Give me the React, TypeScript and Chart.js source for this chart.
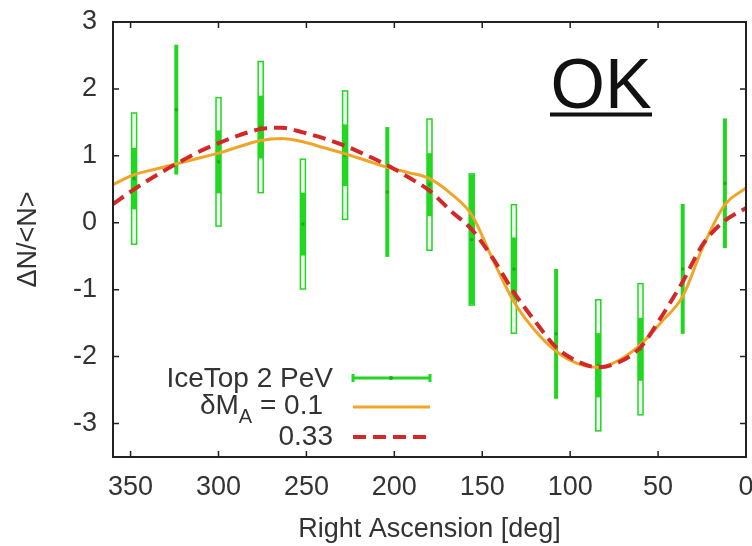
import React, { useEffect, useRef } from "react";
import { Chart, registerables } from "chart.js";

Chart.register(...registerables);

// ---- Data ----
const raBins = [348, 324, 300, 276, 252, 228, 204, 180, 156, 132, 108, 84, 60, 36, 12];
const iceTop = [0.66, 1.69, 0.91, 1.43, -0.02, 1.01, 0.46, 0.57, -0.25, -0.69, -1.66, -2.13, -1.89, -0.69, 0.59];
const statErr = [0.46, 0.97, 0.47, 0.47, 0.47, 0.46, 0.97, 0.47, 0.97, 0.47, 0.97, 0.48, 0.47, 0.97, 0.97];
const totalErr = [0.98, 0.97, 0.96, 0.98, 0.97, 0.96, 0.96, 0.98, 0.98, 0.96, 0.97, 0.98, 0.98, 0.96, 0.96];

const curveRA = [360, 348, 336, 324, 312, 300, 288, 276, 264, 252, 240, 228, 216, 204, 192, 180, 168, 156, 144, 132, 120, 108, 96, 84, 72, 60, 48, 36, 24, 12, 0];
const dMA01 = [0.57, 0.72, 0.8, 0.88, 0.96, 1.04, 1.14, 1.23, 1.26, 1.21, 1.12, 1.03, 0.93, 0.83, 0.75, 0.66, 0.44, 0.12, -0.55, -1.18, -1.61, -1.92, -2.1, -2.16, -2.05, -1.82, -1.48, -1.1, -0.33, 0.27, 0.52];
const dMA033 = [0.28, 0.5, 0.7, 0.88, 1.05, 1.19, 1.31, 1.4, 1.42, 1.35, 1.26, 1.15, 1.01, 0.86, 0.68, 0.48, 0.18, -0.1, -0.53, -1.04, -1.47, -1.86, -2.07, -2.16, -2.08, -1.86, -1.4, -0.88, -0.3, 0.03, 0.22];

const xTickValues = [350, 300, 250, 200, 150, 100, 50, 0];
const yTickValues = [3, 2, 1, 0, -1, -2, -3];

const legendLabels = ["IceTop 2 PeV", "δM", "A", " = 0.1", "0.33"];

const FONT = '"Liberation Sans", Arial, Helvetica, sans-serif';
const TEXT = "#333333";
const GREEN = "rgb(34, 214, 34)";
const GREEN_DARK = "rgb(30, 170, 30)";
const ORANGE = "rgb(240, 165, 40)";
const RED = "rgb(210, 40, 40)";

const customPlugin = {
  id: "customDraw",
  beforeDatasetsDraw(chart: any) {
    const { ctx, chartArea, scales } = chart;
    const x = scales.x;
    const y = scales.y;
    ctx.save();
    ctx.beginPath();
    ctx.rect(chartArea.left, chartArea.top, chartArea.right - chartArea.left, chartArea.bottom - chartArea.top);
    ctx.clip();
    raBins.forEach((ra, i) => {
      const px = x.getPixelForValue(ra);
      const c = iceTop[i];
      const yt = y.getPixelForValue(c + totalErr[i]);
      const yb = y.getPixelForValue(c - totalErr[i]);
      const st = y.getPixelForValue(c + statErr[i]);
      const sb = y.getPixelForValue(c - statErr[i]);
      if (statErr[i] < totalErr[i]) {
        ctx.fillStyle = "rgba(240,255,240,0.9)";
        ctx.fillRect(px - 2.5, yt, 5, yb - yt);
        ctx.strokeStyle = GREEN;
        ctx.lineWidth = 1.5;
        ctx.strokeRect(px - 2.5, yt, 5, yb - yt);
        ctx.fillStyle = GREEN;
        ctx.fillRect(px - 2.5, st, 5, sb - st);
      } else {
        ctx.fillStyle = GREEN;
        ctx.fillRect(px - 2, st, 4, sb - st);
      }
    });
    ctx.restore();
  },
  afterDraw(chart: any) {
    const { ctx, chartArea, scales } = chart;
    const x = scales.x;
    const y = scales.y;
    const { left, right, top, bottom } = chartArea;
    ctx.save();
    // frame
    ctx.strokeStyle = "#222";
    ctx.lineWidth = 2;
    ctx.strokeRect(left, top, right - left, bottom - top);
    ctx.lineWidth = 1.5;
    ctx.beginPath();
    xTickValues.forEach((v) => {
      const px = x.getPixelForValue(v);
      ctx.moveTo(px, bottom);
      ctx.lineTo(px, bottom - 6);
      ctx.moveTo(px, top);
      ctx.lineTo(px, top + 6);
    });
    yTickValues.forEach((v) => {
      const py = y.getPixelForValue(v);
      ctx.moveTo(left, py);
      ctx.lineTo(left + 6, py);
      ctx.moveTo(right, py);
      ctx.lineTo(right - 6, py);
    });
    ctx.stroke();

    // axis titles
    ctx.fillStyle = TEXT;
    ctx.font = `27px ${FONT}`;
    ctx.textAlign = "center";
    ctx.textBaseline = "middle";
    ctx.fillText("Right Ascension [deg]", (left + right) / 2, 530);
    ctx.save();
    ctx.translate(29, (top + bottom) / 2);
    ctx.rotate(-Math.PI / 2);
    ctx.fillText("ΔN/<N>", 0, 0);
    ctx.restore();

    // legend
    ctx.textBaseline = "alphabetic";
    ctx.font = `28px ${FONT}`;
    ctx.textAlign = "right";
    ctx.fillText(legendLabels[0], 333, 387);
    ctx.fillText(legendLabels[4], 333, 445);
    ctx.textAlign = "left";
    const w1 = ctx.measureText(legendLabels[1]).width;
    const w3 = ctx.measureText(legendLabels[3]).width;
    ctx.font = `20px ${FONT}`;
    const w2 = ctx.measureText(legendLabels[2]).width;
    const xs = 323 - (w1 + w2 + w3);
    ctx.font = `28px ${FONT}`;
    ctx.fillText(legendLabels[1], xs, 414);
    ctx.fillText(legendLabels[3], xs + w1 + w2, 414);
    ctx.font = `20px ${FONT}`;
    ctx.fillText(legendLabels[2], xs + w1, 423);

    // legend samples
    ctx.lineCap = "butt";
    ctx.strokeStyle = GREEN;
    ctx.lineWidth = 3;
    ctx.beginPath();
    ctx.moveTo(353, 378);
    ctx.lineTo(430, 378);
    ctx.moveTo(430, 374);
    ctx.lineTo(430, 382);
    ctx.moveTo(353, 374);
    ctx.lineTo(353, 382);
    ctx.stroke();
    ctx.fillStyle = GREEN_DARK;
    ctx.beginPath();
    ctx.arc(391, 378, 2, 0, Math.PI * 2);
    ctx.fill();

    ctx.strokeStyle = ORANGE;
    ctx.lineWidth = 3;
    ctx.beginPath();
    ctx.moveTo(353, 407);
    ctx.lineTo(430, 407);
    ctx.stroke();

    ctx.strokeStyle = RED;
    ctx.lineWidth = 4;
    ctx.setLineDash([13, 7]);
    ctx.beginPath();
    ctx.moveTo(353, 437);
    ctx.lineTo(430, 437);
    ctx.stroke();
    ctx.setLineDash([]);

    // OK label
    ctx.fillStyle = "#111";
    ctx.font = `70px ${FONT}`;
    ctx.textAlign = "center";
    ctx.textBaseline = "alphabetic";
    ctx.fillText("OK", 601, 108);
    ctx.fillRect(550, 112.5, 102, 4);
    ctx.restore();
  },
};

export default function App() {
  const canvasRef = useRef<HTMLCanvasElement | null>(null);

  useEffect(() => {
    const canvas = canvasRef.current;
    if (!canvas) return;
    const chart = new Chart(canvas, {
      type: "line",
      data: {
        datasets: [
          {
            label: "0.33",
            data: curveRA.map((ra, i) => ({ x: ra, y: dMA033[i] })),
            borderColor: RED,
            borderWidth: 4,
            borderDash: [13, 7],
            pointRadius: 0,
            cubicInterpolationMode: "monotone",
            fill: false,
            order: 0,
          },
          {
            label: "δM_A = 0.1",
            data: curveRA.map((ra, i) => ({ x: ra, y: dMA01[i] })),
            borderColor: ORANGE,
            borderWidth: 3,
            pointRadius: 0,
            cubicInterpolationMode: "monotone",
            fill: false,
            order: 1,
          },
          {
            label: "IceTop 2 PeV",
            data: raBins.map((ra, i) => ({ x: ra, y: iceTop[i] })),
            showLine: false,
            pointRadius: 1.8,
            pointBackgroundColor: GREEN_DARK,
            pointBorderWidth: 0,
            order: 2,
          },
        ],
      },
      options: {
        responsive: false,
        animation: false,
        layout: { padding: { top: 22, right: 6, left: 0, bottom: 0 } },
        plugins: {
          legend: { display: false },
          tooltip: { enabled: false },
          title: { display: false },
        },
        scales: {
          x: {
            type: "linear",
            min: 0,
            max: 360,
            reverse: true,
            grid: { display: false, drawTicks: false },
            border: { display: false },
            afterBuildTicks: (scale: any) => {
              scale.ticks = xTickValues.map((v) => ({ value: v }));
            },
            afterFit: (scale: any) => {
              scale.height = 89;
              scale.paddingLeft = 0;
              scale.paddingRight = 0;
            },
            ticks: {
              autoSkip: false,
              maxRotation: 0,
              padding: 14,
              color: TEXT,
              font: { family: FONT, size: 27 },
              callback: (v: any) => String(v),
            },
          },
          y: {
            type: "linear",
            min: -3.5,
            max: 3,
            grid: { display: false, drawTicks: false },
            border: { display: false },
            afterBuildTicks: (scale: any) => {
              scale.ticks = yTickValues.map((v) => ({ value: v }));
            },
            afterFit: (scale: any) => {
              scale.width = 113;
              scale.paddingTop = 0;
              scale.paddingBottom = 0;
            },
            ticks: {
              autoSkip: false,
              padding: 16,
              color: TEXT,
              font: { family: FONT, size: 27 },
              callback: (v: any) => String(v),
            },
          },
        },
      },
      plugins: [customPlugin],
    });
    return () => chart.destroy();
  }, []);

  return (
    <div style={{ position: "absolute", left: 0, top: 0, width: 752, height: 546, background: "#fff" }}>
      <canvas ref={canvasRef} width={752} height={546} style={{ display: "block" }} />
    </div>
  );
}
